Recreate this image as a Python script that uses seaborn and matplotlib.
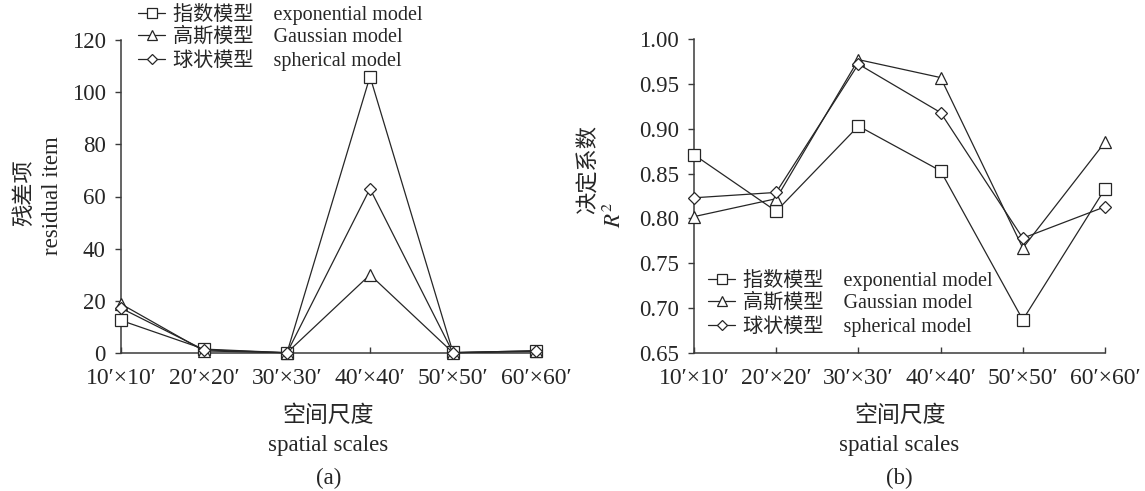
import numpy as np
import pandas as pd
import matplotlib
matplotlib.use('Agg')
import matplotlib.pyplot as plt
from matplotlib.lines import Line2D
import seaborn as sns

# Dados
scales = ['10′×10′', '20′×20′', '30′×30′', '40′×40′', '50′×50′', '60′×60′']
models_cn = ['指数模型', '高斯模型', '球状模型']
models_en = ['exponential model', 'Gaussian model', 'spherical model']

resid_exp = [12.5, 1.5, 0.1, 106.0, 0.2, 0.8]
resid_gau = [18.8, 0.8, 0.1, 30.0, 0.1, 0.6]
resid_sph = [17.2, 1.2, 0.1, 63.0, 0.1, 0.9]

r2_exp = [0.871, 0.808, 0.903, 0.853, 0.687, 0.833]
r2_gau = [0.802, 0.822, 0.977, 0.957, 0.767, 0.885]
r2_sph = [0.823, 0.829, 0.972, 0.918, 0.778, 0.813]

resid_ticks = [0, 20, 40, 60, 80, 100, 120]
r2_ticks = [0.65, 0.70, 0.75, 0.80, 0.85, 0.90, 0.95, 1.00]

# Estilo
sns.set_style('ticks')
plt.rcParams['font.family'] = ['Liberation Serif', 'Noto Sans CJK SC']
plt.rcParams['mathtext.fontset'] = 'stix'
ink = '#262626'
plt.rcParams['text.color'] = ink
plt.rcParams['axes.edgecolor'] = '#3a3a3a'
plt.rcParams['xtick.color'] = '#3a3a3a'
plt.rcParams['ytick.color'] = '#3a3a3a'
plt.rcParams['xtick.labelcolor'] = ink
plt.rcParams['ytick.labelcolor'] = ink

markers = ['s', '^', 'D']
msizes = [8.5, 9.0, 6.0]
labels = [f'{c}    {e}' for c, e in zip(models_cn, models_en)]

W, H = 1145, 491
fig = plt.figure(figsize=(W / 100, H / 100), dpi=100)
ax_a = fig.add_axes([121 / W, 1 - 353 / H, (536 - 121) / W, (353 - 40) / H])
ax_b = fig.add_axes([694 / W, 1 - 353 / H, (1105 - 694) / W, (353 - 39) / H])

x = np.arange(len(scales))


def draw(ax, series):
    for vals, m, ms in zip(series, markers, msizes):
        df = pd.DataFrame({'x': x, 'y': vals})
        sns.lineplot(data=df, x='x', y='y', ax=ax, color=ink, linewidth=0.9,
                     marker=m, markersize=ms, markerfacecolor='white',
                     markeredgecolor=ink, markeredgewidth=0.9,
                     clip_on=False, zorder=3, legend=False)
    ax.set_xlim(0, len(scales) - 1)
    ax.set_xticks(x)
    ax.set_xticklabels(scales)
    ax.set_xlabel('')
    ax.set_ylabel('')
    sns.despine(ax=ax)
    for s in ['left', 'bottom']:
        ax.spines[s].set_linewidth(1.1)
    ax.tick_params(axis='x', direction='in', length=4, width=1, pad=11, labelsize=17)
    ax.tick_params(axis='y', direction='out', length=4, width=1, pad=7, labelsize=16.5)


draw(ax_a, [resid_exp, resid_gau, resid_sph])
ax_a.set_ylim(0, 120)
ax_a.set_yticks(resid_ticks)

draw(ax_b, [r2_exp, r2_gau, r2_sph])
ax_b.set_ylim(0.65, 1.00)
ax_b.set_yticks(r2_ticks)
ax_b.set_yticklabels([f'{t:.2f}' for t in r2_ticks])

# Legendas
handles = [Line2D([], [], color=ink, linewidth=0.9, marker=m, markersize=ms * 0.85,
                  markerfacecolor='white', markeredgecolor=ink, markeredgewidth=0.9)
           for m, ms in zip(markers, msizes)]
leg_kw = dict(frameon=False, fontsize=14.5, handlelength=1.35, handletextpad=0.4,
              labelspacing=0.12, borderpad=0, borderaxespad=0, loc='upper left',
              bbox_transform=fig.transFigure)
ax_a.legend(handles, labels, bbox_to_anchor=(138 / W, 1 - 3 / H), **leg_kw)
ax_b.legend(handles, labels, bbox_to_anchor=(708 / W, 1 - 269 / H), **leg_kw)

# Rotulos
for cx, tag in [((121 + 536) / 2, '(a)'), ((694 + 1105) / 2, '(b)')]:
    fig.text(cx / W, 1 - 416 / H, '空间尺度', ha='center', va='center', fontsize=16.5)
    fig.text(cx / W, 1 - 446 / H, 'spatial scales', ha='center', va='center', fontsize=16.5)
    fig.text(cx / W, 1 - 478 / H, tag, ha='center', va='center', fontsize=16.5)

fig.text(25 / W, 1 - 193 / H, '残差项', rotation=90, ha='center', va='center', fontsize=16)
fig.text(53 / W, 1 - 196 / H, 'residual item', rotation=90, ha='center', va='center', fontsize=16.5)
fig.text(589 / W, 1 - 170 / H, '决定系数', rotation=90, ha='center', va='center', fontsize=16)
fig.text(614 / W, 1 - 215 / H, '$R^2$', rotation=90, ha='center', va='center', fontsize=16.5)

fig.savefig('out.png', dpi=100)
